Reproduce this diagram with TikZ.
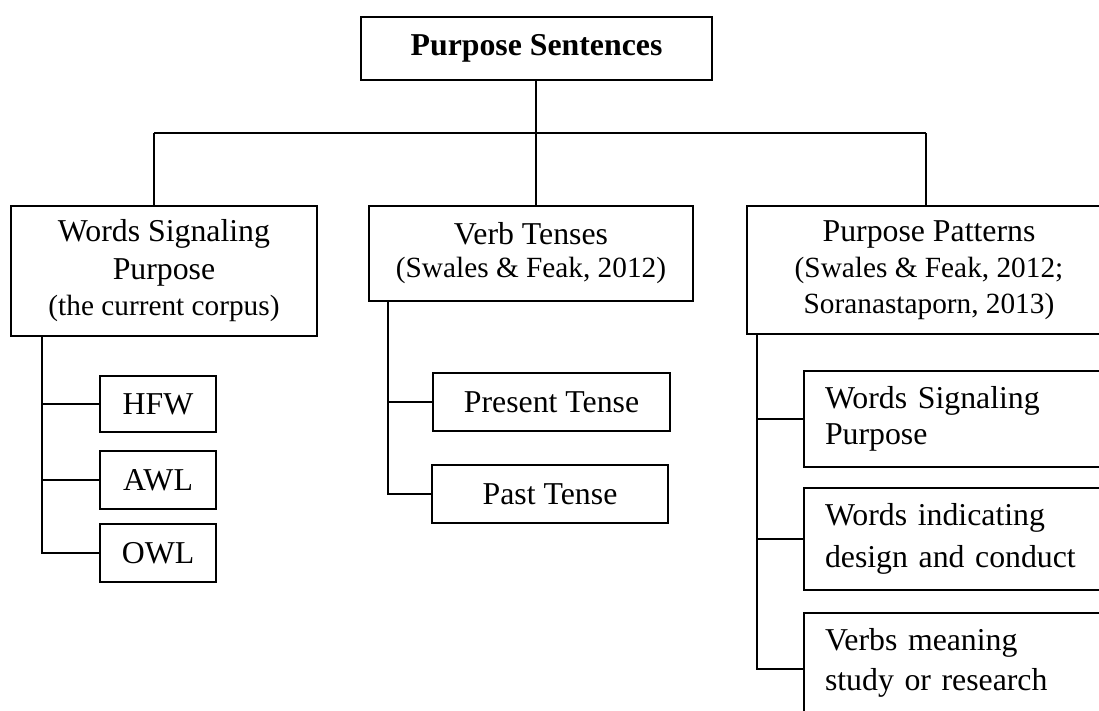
\documentclass[tikz,border=0pt]{standalone}
\usepackage{fontspec}
\setmainfont{Liberation Serif}
\newcommand{\mainsz}{\fontsize{31.8}{38}\selectfont}
\newcommand{\subsz}{\fontsize{29.3}{38}\selectfont}
\begin{document}
\begin{tikzpicture}[x=1pt,y=-1pt,
  box/.style={draw, line width=1.4pt, inner sep=0pt, font=\mainsz, align=center},
  lbox/.style={draw, line width=1.4pt, inner xsep=21pt, inner ysep=0pt, font=\mainsz, align=left, text width=265pt},
  conn/.style={line width=1.4pt}]
\useasboundingbox (0,0) rectangle (1099,711);
\clip (0,0) rectangle (1099,711);
\fill[white] (0,0) rectangle (1099,711);

\node[box, minimum width=351pt, minimum height=63pt] (top) at (536.5,48.5) {\textbf{Purpose Sentences}};

\node[box, minimum width=306pt, minimum height=130pt] (wsp) at (164,271) {Words Signaling\\Purpose\\[-2pt]{\subsz (the current corpus)}};
\node[box, minimum width=324pt, minimum height=95pt] (vt) at (531,253.5) {Verb Tenses\\[-5pt]{\subsz (Swales \& Feak, 2012)}};
\node[box, minimum width=364pt, minimum height=128pt] (pp) at (929,270) {Purpose Patterns\\[-2pt]{\subsz (Swales \& Feak, 2012;}\\[-2pt]{\subsz Soranastaporn, 2013)}};

\node[box, minimum width=116pt, minimum height=56pt] (hfw) at (158,404) {HFW};
\node[box, minimum width=116pt, minimum height=58pt] (awl) at (158,480) {AWL};
\node[box, minimum width=116pt, minimum height=58pt] (owl) at (158,553) {OWL};

\node[box, minimum width=237pt, minimum height=58pt] (pres) at (551.5,402) {Present Tense};
\node[box, minimum width=236pt, minimum height=58pt] (past) at (550,494) {Past Tense};

\node[lbox, minimum height=96pt] (pp1) at (957.5,419) {Words Signaling\\[-2pt]Purpose};
\node[lbox, minimum height=102pt] (pp2) at (957.5,539) {Words indicating\\[4pt]design and conduct};
\node[lbox, minimum height=100pt] (pp3) at (957.5,663) {Verbs meaning\\[2pt]study or research};

% bus
\coordinate (d1) at (154,133);
\coordinate (d2) at (536,133);
\coordinate (d3) at (926,133);
\draw[conn] (d2 |- top.south) -- (d2) -- (d2 |- vt.north);
\draw[conn] (d1) -- (d3);
\draw[conn] (d1) -- (d1 |- wsp.north);
\draw[conn] (d3) -- (d3 |- pp.north);

% left stem
\coordinate (s1) at (42,0);
\draw[conn] (wsp.south -| s1) -- (owl.west -| s1) -- (owl.west);
\draw[conn] (hfw.west -| s1) -- (hfw.west);
\draw[conn] (awl.west -| s1) -- (awl.west);

% middle stem
\coordinate (s2) at (388,0);
\draw[conn] (vt.south -| s2) -- (past.west -| s2) -- (past.west);
\draw[conn] (pres.west -| s2) -- (pres.west);

% right stem
\coordinate (s3) at (757,0);
\coordinate (c3) at (757,669);
\draw[conn] (pp.south -| s3) -- (c3) -- (c3 -| pp3.west);
\draw[conn] (pp1.west -| s3) -- (pp1.west);
\draw[conn] (pp2.west -| s3) -- (pp2.west);
\end{tikzpicture}
\end{document}
